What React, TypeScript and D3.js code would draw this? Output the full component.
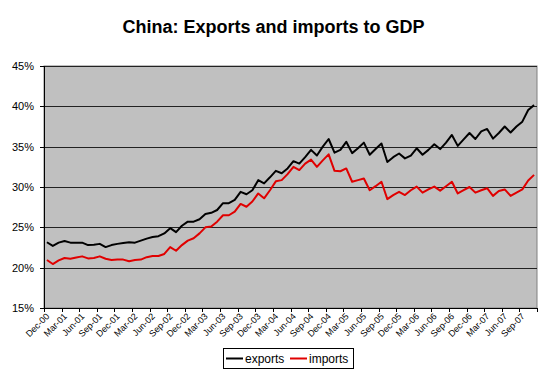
import { useMemo } from 'react';
import * as d3 from 'd3';

// monthly categories, Dec-00 .. Nov-07
const MONTHS = ['Jan', 'Feb', 'Mar', 'Apr', 'May', 'Jun', 'Jul', 'Aug', 'Sep', 'Oct', 'Nov', 'Dec'];
const categories: string[] = ['Dec-00'];
for (let y = 1; y <= 7; y++) {
  for (let m = 0; m < 12; m++) {
    if (y === 7 && m > 10) break;
    categories.push(`${MONTHS[m]}-0${y}`);
  }
}

// % of GDP
const exportsPct = [
  23.15, 22.7, 23.1, 23.3, 23.1, 23.1, 23.1, 22.8, 22.85, 22.95, 22.55, 22.8,
  22.95, 23.05, 23.15, 23.1, 23.35, 23.6, 23.8, 23.9, 24.25, 24.9, 24.4, 25.2,
  25.7, 25.7, 26.0, 26.65, 26.8, 27.15, 28.0, 28.0, 28.4, 29.4, 29.1, 29.6,
  30.85, 30.45, 31.2, 32.0, 31.7, 32.3, 33.2, 32.9, 33.7, 34.6, 33.9, 35.0,
  35.95, 34.25, 34.6, 35.6, 34.2, 34.8, 35.5, 34.0, 34.7, 35.4, 33.1, 33.7,
  34.15, 33.55, 33.9, 34.8, 34.0, 34.6, 35.3, 34.7, 35.5, 36.45, 35.1, 35.9,
  36.7, 35.95, 36.9, 37.2, 36.0, 36.7, 37.5, 36.75, 37.5, 38.1, 39.55, 40.15,
];

const importsPct = [
  20.95, 20.45, 20.9, 21.2, 21.1, 21.25, 21.4, 21.15, 21.2, 21.4, 21.1, 20.95,
  21.0, 21.0, 20.8, 20.95, 21.0, 21.3, 21.45, 21.45, 21.7, 22.55, 22.1, 22.8,
  23.35, 23.65, 24.25, 25.0, 25.1, 25.7, 26.5, 26.5, 26.95, 27.9, 27.55, 28.2,
  29.2, 28.6, 29.6, 30.7, 30.85, 31.6, 32.5, 32.1, 32.9, 33.4, 32.5, 33.3,
  34.05, 32.0, 31.95, 32.3, 30.65, 30.85, 31.05, 29.6, 30.1, 30.65, 28.5, 29.0,
  29.4, 29.0, 29.6, 30.05, 29.3, 29.7, 30.05, 29.55, 30.1, 30.65, 29.2, 29.6,
  30.0, 29.3, 29.6, 29.85, 28.9, 29.5, 29.7, 28.9, 29.3, 29.7, 30.8, 31.5,
];

const yTicks = [15, 20, 25, 30, 35, 40, 45];

const series = [
  { name: 'exports', values: exportsPct, color: '#000000' },
  { name: 'imports', values: importsPct, color: '#e00000' },
];

const W = 547;
const H = 374;
const margin = { top: 66, right: 10, bottom: 66, left: 44 };
const font = 'Arial, "Liberation Sans", sans-serif';

export default function App() {
  const x = useMemo(
    () => d3.scaleBand<string>().domain(categories).range([margin.left, W - margin.right]).padding(0),
    []
  );
  const y = useMemo(
    () => d3.scaleLinear().domain([15, 45]).range([H - margin.bottom, margin.top]),
    []
  );

  const line = d3
    .line<number>()
    .x((_, i) => (x(categories[i]) as number) + x.bandwidth() / 2)
    .y(d => y(d));

  const x0 = margin.left;
  const x1 = W - margin.right;
  const yBottom = y(15);
  const yTop = y(45);

  // tick marks every 3 months on band edges, labels on every 3rd category
  const tickIdx = d3.range(0, categories.length + 1, 3);
  const labelIdx = d3.range(0, categories.length, 3);

  return (
    <svg
      width={W}
      height={H}
      style={{ position: 'absolute', left: 0, top: 0, background: '#fff' }}
      fontFamily={font}
    >
      <text x={W / 2} y={33} textAnchor="middle" fontSize={18} fontWeight="bold" fill="#000">
        China: Exports and imports to GDP
      </text>

      {/* plot area */}
      <rect x={x0} y={yTop} width={x1 - x0} height={yBottom - yTop} fill="#c0c0c0" stroke="#808080" strokeWidth={1} />

      {yTicks.slice(1).map(t => (
        <line key={t} x1={x0} x2={x1} y1={Math.round(y(t)) + 0.5} y2={Math.round(y(t)) + 0.5} stroke="#222" strokeWidth={1} />
      ))}

      {/* y axis */}
      <line x1={x0 + 0.5} x2={x0 + 0.5} y1={yTop} y2={yBottom} stroke="#000" />
      {yTicks.map(t => (
        <g key={t}>
          <line x1={x0 - 4} x2={x0} y1={Math.round(y(t)) + 0.5} y2={Math.round(y(t)) + 0.5} stroke="#000" />
          <text x={x0 - 10} y={y(t)} dy="0.35em" textAnchor="end" fontSize={11} fill="#000">
            {t}%
          </text>
        </g>
      ))}

      {/* x axis */}
      <line x1={x0} x2={x1} y1={Math.round(yBottom) + 0.5} y2={Math.round(yBottom) + 0.5} stroke="#000" />
      {tickIdx.map(i => {
        const xx = i < categories.length ? (x(categories[i]) as number) : x1;
        return (
          <line key={i} x1={Math.round(xx) + 0.5} x2={Math.round(xx) + 0.5} y1={yBottom} y2={yBottom + 4} stroke="#000" />
        );
      })}
      {labelIdx.map(i => {
        const xc = (x(categories[i]) as number) + x.bandwidth() / 2;
        return (
          <text
            key={i}
            transform={`translate(${xc + 3},${yBottom + 9}) rotate(-45)`}
            textAnchor="end"
            fontSize={9}
            fill="#000"
          >
            {categories[i]}
          </text>
        );
      })}

      {/* series */}
      {series.map(s => (
        <path key={s.name} d={line(s.values) || ''} fill="none" stroke={s.color} strokeWidth={2} strokeLinejoin="round" />
      ))}

      {/* legend */}
      <rect x={223.5} y={348.5} width={130} height={20} fill="#fff" stroke="#000" />
      {series.map((s, i) => {
        const lx = 226 + i * 64;
        return (
          <g key={s.name}>
            <line x1={lx} x2={lx + 17} y1={358.5} y2={358.5} stroke={s.color} strokeWidth={2} />
            <text x={lx + 19} y={362.5} fontSize={12} fill="#000">
              {s.name}
            </text>
          </g>
        );
      })}
    </svg>
  );
}
